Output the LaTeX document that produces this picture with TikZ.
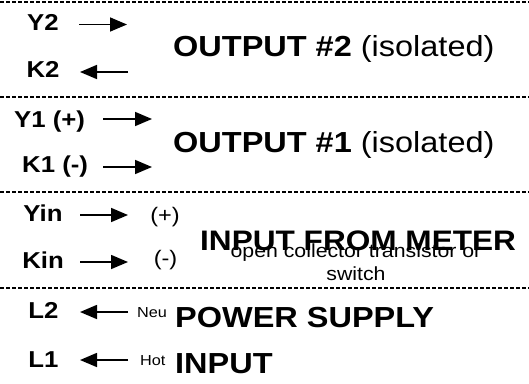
\documentclass[tikz,border=0pt]{standalone}
\usepackage{fontspec}
\setmainfont[FakeStretch=1.12]{Liberation Sans}
\usetikzlibrary{arrows.meta}

\begin{document}
\begin{tikzpicture}[x=1pt,y=-1pt,
  sep/.style={line width=1.2pt, dash pattern=on 4pt off 2pt},
  pinlabel/.style={font=\fontsize{23}{27}\selectfont\bfseries, anchor=base, inner sep=0pt},
  title/.style={font=\fontsize{29}{34}\selectfont, anchor=base west, inner sep=0pt},
  note/.style={font=\fontsize{19}{23}\selectfont, anchor=base, inner sep=0pt},
  pol/.style={font=\fontsize{21}{24}\selectfont, anchor=base, inner sep=0pt},
  tag/.style={font=\fontsize{14.5}{17}\selectfont, anchor=base west, inner sep=0pt},
  wire/.style={line width=1.6pt, arrows={-Triangle[length=17pt,width=14pt]}}]
\useasboundingbox (0,0) rectangle (529,383);

% section separators
\coordinate (s0l) at (0,2);   \coordinate (s0r) at (529,2);
\coordinate (s1l) at (0,97);  \coordinate (s1r) at (529,97);
\coordinate (s2l) at (0,192); \coordinate (s2r) at (529,192);
\coordinate (s3l) at (0,288); \coordinate (s3r) at (529,288);
\draw[sep] (s0l) -- (s0r);
\draw[sep] (s1l) -- (s1r);
\draw[sep] (s2l) -- (s2r);
\draw[sep] (s3l) -- (s3r);

% output 2
\node[pinlabel] (y2) at (43,30.5) {Y2};
\node[pinlabel] (k2) at (43,77.5) {K2};
\coordinate (y2a) at (79,24.5);  \coordinate (y2b) at (127,24.5);
\coordinate (k2a) at (128,72); \coordinate (k2b) at (80,72);
\draw[wire] (y2a) -- (y2b);
\draw[wire] (k2a) -- (k2b);
\node[title] (out2) at (173,56) {\textbf{OUTPUT \#2} (isolated)};

% output 1
\node[pinlabel, anchor=base west] (y1) at (14,127) {Y1 (+)};
\node[pinlabel, anchor=base west] (k1) at (22,172.5) {K1 (-)};
\coordinate (y1a) at (103,119); \coordinate (y1b) at (152,119);
\coordinate (k1a) at (103,167); \coordinate (k1b) at (152,167);
\draw[wire] (y1a) -- (y1b);
\draw[wire] (k1a) -- (k1b);
\node[title] (out1) at (173,152) {\textbf{OUTPUT \#1} (isolated)};

% meter input
\node[pinlabel] (yin) at (43,221.5) {Yin};
\node[pinlabel] (kin) at (43,268.5) {Kin};
\coordinate (yina) at (80,215); \coordinate (yinb) at (128,215);
\coordinate (kina) at (80,262); \coordinate (kinb) at (128,262);
\draw[wire] (yina) -- (yinb);
\draw[wire] (kina) -- (kinb);
\node[pol] (plus) at (165,222.5) {(+)};
\node[pol] (minus) at (165.5,265) {(-)};
\node[title, font=\fontsize{28.2}{34}\selectfont\bfseries] (meter) at (200,250) {INPUT FROM METER};
\node[note] (noteA) at (356,257) {open collector transistor or};
\node[note] (noteB) at (356,280) {switch};

% power supply
\node[pinlabel] (l2) at (43.5,318.5) {L2};
\node[pinlabel] (l1) at (43.5,367) {L1};
\coordinate (l2a) at (128,312); \coordinate (l2b) at (80,312);
\coordinate (l1a) at (128,360); \coordinate (l1b) at (80,360);
\draw[wire] (l2a) -- (l2b);
\draw[wire] (l1a) -- (l1b);
\node[tag] (neu) at (137,317) {Neu};
\node[tag] (hot) at (140,365) {Hot};
\node[title, font=\fontsize{29}{34}\selectfont\bfseries] (pwr) at (175,327) {POWER SUPPLY};
\node[title, font=\fontsize{29}{34}\selectfont\bfseries] (pin) at (175,373) {INPUT};
\end{tikzpicture}
\end{document}
